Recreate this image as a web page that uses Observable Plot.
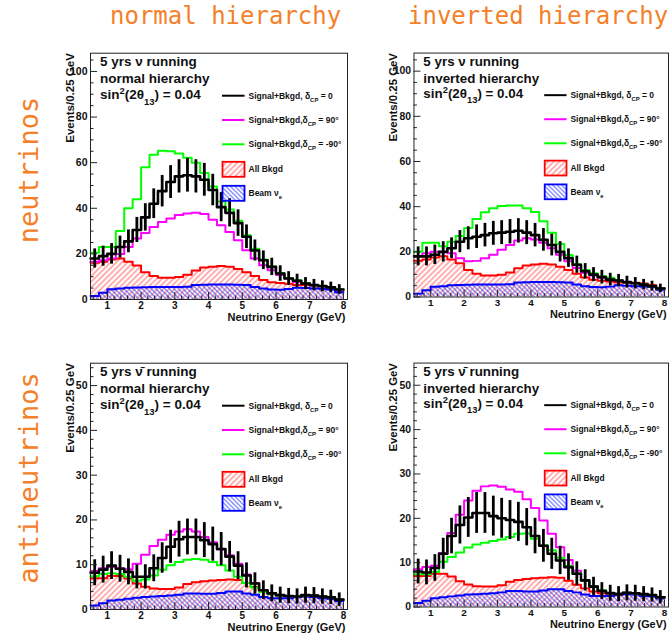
<!DOCTYPE html>
<html><head><meta charset="utf-8">
<script src="https://cdn.jsdelivr.net/npm/d3@7"></script>
<script src="https://cdn.jsdelivr.net/npm/@observablehq/plot@0.6"></script>
<style>
html,body{margin:0;padding:0;background:#fff;overflow:hidden;width:670px;height:640px;}
#wrap{position:relative;width:670px;height:640px;overflow:hidden;}
.panel{position:absolute;}
#overlay{position:absolute;left:0;top:0;pointer-events:none;}
</style></head><body><div id="wrap"></div>
<script>
// bins: lower edges (GeV), width 0.25
const binLow = [0.5,0.75,1,1.25,1.5,1.75,2,2.25,2.5,2.75,3,3.25,3.5,3.75,4,4.25,4.5,4.75,5,5.25,5.5,5.75,6,6.25,6.5,6.75,7,7.25,7.5,7.75];
const binWidth = 0.25;
const xMajor = [1,2,3,4,5,6,7,8];
const yMajorNu = [0,20,40,60,80,100];
const yMajorAnti = [0,10,20,30,40,50];

// neutrino running: backgrounds
const nuBkgd = [16.1,16.6,17.5,18.0,16.6,14.9,12.0,10.3,9.5,9.5,9.9,10.9,12.7,14.0,14.4,14.7,14.4,13.4,12.0,10.3,8.6,7.6,7.2,6.9,6.4,6.4,6.3,6.0,5.3,4.0];
const nuBeam = [1.5,3.0,4.5,4.8,5.2,5.3,5.4,5.5,5.5,5.5,5.5,5.6,6.4,6.5,6.6,6.6,6.6,6.5,6.4,5.5,4.8,4.4,4.3,4.6,5.2,5.0,4.8,4.7,4.4,3.2];
// neutrino, normal hierarchy
const nuNH_d0   = [18,19,20,23,25.5,30.5,36,42,47.5,51.5,54,54.5,54,52.5,48,40.5,38,33.5,27.5,21.5,17.2,14.3,11.4,9.2,8.2,7.0,6.3,5.8,5.3,4.4];
const nuNH_err  = [4.2,4.4,4.5,4.8,5.0,5.5,6.0,6.5,6.9,7.2,7.3,7.4,7.3,7.2,6.9,6.4,6.2,5.8,5.2,4.6,4.1,3.8,3.4,3.0,2.9,2.6,2.5,2.4,2.3,2.1];
const nuNH_d90  = [16.5,17.2,18,20,23,26.7,29.2,31.8,34,35.5,37,37.7,38,37.5,35,32.6,29.6,26,21.6,18,15,12.8,10.7,9.2,7.7,7,6.3,5.8,5.3,4.4];
const nuNH_dm90 = [20.5,23,23,30,40,44,58,63.5,65.2,65,64,62.2,60,55.5,49.5,43,39.5,34.5,28.2,22.3,17.5,14.5,11.6,9.4,8.4,7.2,6.4,6.0,5.4,4.5];
// neutrino, inverted hierarchy
const nuIH_d0   = [18,18,18.7,20,21.6,24.5,26,26.7,27.4,28.2,28.5,28.9,29.3,28.5,27.4,25.3,23,20,17.2,14.3,11.4,9.9,8.8,7.7,7.3,6.6,6.1,5.5,4.8,3.8];
const nuIH_err  = [4.2,4.2,4.3,4.5,4.6,4.9,5.1,5.2,5.2,5.3,5.3,5.4,5.4,5.3,5.2,5.0,4.8,4.5,4.1,3.8,3.4,3.1,3.0,2.8,2.7,2.6,2.5,2.3,2.2,1.9];
const nuIH_d90  = [18,19.4,20,20,19.4,17.2,15.8,16,17.2,18.7,20.9,23,25,26,25.5,24,21.6,18.7,15.8,12.8,10.7,9.5,8.5,7.7,7.3,6.6,6.1,5.5,4.8,3.8];
const nuIH_dm90 = [20,24,24,22.5,24.5,27,30.5,34.5,37.5,39.3,40.3,40.5,40.5,39.3,37.6,33.5,28.5,23.5,18.6,14.5,12,10.5,9.2,8.5,7.3,6.6,6.1,5.5,4.8,3.8];

// antineutrino running: backgrounds
const antiBkgd = [7.0,7.0,7.5,7.5,6.9,5.8,5.1,4.7,4.6,4.6,4.9,5.7,6.1,6.3,6.5,6.6,6.7,6.6,5.9,5.0,4.2,3.5,3.1,3.0,2.8,3.1,3.1,2.8,2.6,2.2];
const antiBeam = [0.9,1.4,2.0,2.2,2.4,2.6,2.8,2.9,3.0,3.1,3.3,3.6,3.6,3.5,3.5,3.7,4.0,4.0,3.6,3.3,2.8,2.5,2.5,2.5,2.8,2.9,2.8,2.5,2.4,1.9];
// antineutrino, normal hierarchy
const antiNH_d0   = [8.2,8.9,9.8,9.1,8.4,7.3,7.3,9.2,11.5,14,15.7,16.2,16.2,15.5,14.6,13.5,11.8,9.8,7.6,5.8,4.3,3.6,3.2,3.0,2.9,3.2,3.1,2.9,2.7,2.2];
const antiNH_err  = [2.9,3.0,3.1,3.0,2.9,2.7,2.7,3.0,3.4,3.7,4.0,4.0,4.0,3.9,3.8,3.7,3.4,3.1,2.8,2.4,2.1,1.9,1.8,1.7,1.7,1.8,1.8,1.7,1.6,1.5];
const antiNH_d90  = [8.6,9.2,9.5,9.2,9.0,10.2,12.2,14.2,15.6,16.7,17.4,17.9,17.4,16.2,15.0,13.4,12.1,10.2,7.8,5.9,4.3,3.6,3.2,3.0,2.9,3.2,3.1,2.9,2.7,2.2];
const antiNH_dm90 = [7.4,7.9,8.1,7.9,7.3,6.4,6.7,7.6,8.9,9.9,10.6,11.1,11.3,11.1,10.6,9.9,8.7,7.3,5.9,4.9,3.9,3.4,3.1,3.0,2.9,3.2,3.1,2.9,2.7,2.2];
// antineutrino, inverted hierarchy
const antiIH_d0   = [8.0,7.8,8.8,12,16,18.5,20.2,21.2,21.2,20.5,20.0,19.6,19.2,18.0,16.0,13.8,12.0,10.5,9.0,7.5,6.0,4.6,3.6,3.1,2.9,3.2,3.1,2.9,2.7,2.2];
const antiIH_err  = [2.8,2.8,3.0,3.5,4.0,4.3,4.5,4.6,4.6,4.5,4.5,4.4,4.4,4.2,4.0,3.7,3.5,3.2,3.0,2.7,2.4,2.1,1.9,1.8,1.7,1.8,1.8,1.7,1.6,1.5];
const antiIH_d90  = [8.5,9.0,9.3,12.2,16.7,20.8,24.0,26.2,27.2,27.4,27.1,26.5,26.0,24.3,22.3,19.5,16.5,13.5,10.6,8.2,6.0,4.7,3.8,3.2,3.0,3.2,3.1,2.9,2.7,2.2];
const antiIH_dm90 = [7.4,7.4,7.9,10.2,11.3,12.3,13.4,14.1,14.5,14.9,15.2,15.8,16.5,16.6,15.4,13.9,12.8,11.1,9.3,7.6,5.9,4.7,3.8,3.2,3.0,3.2,3.1,2.9,2.7,2.2];

const columnTitles = ["normal hierarchy", "inverted hierarchy"];
const rowTitles = ["neutrinos", "antineutrinos"];
const legendLabels = [
  [{t:"Signal+Bkgd, "},{t:"δ"},{t:"CP",sub:true},{t:" = 0"}],
  [{t:"Signal+Bkgd,"},{t:"δ"},{t:"CP",sub:true},{t:" = 90°"}],
  [{t:"Signal+Bkgd,"},{t:"δ"},{t:"CP",sub:true},{t:" = -90°"}],
  [{t:"All Bkgd"}],
  [{t:"Beam ν"},{t:"e",sub:true}]
];

const panels = [
  {id:1, left:36, top:40, yMax:108, yMajor:yMajorNu, yMinorStep:5, run:"5 yrs ν running", hier:"normal hierarchy", d0:nuNH_d0, err:nuNH_err, d90:nuNH_d90, dm90:nuNH_dm90, bkgd:nuBkgd, beam:nuBeam},
  {id:2, left:360, top:40, yMax:108, yMajor:yMajorNu, yMinorStep:5, run:"5 yrs ν running", hier:"inverted hierarchy", d0:nuIH_d0, err:nuIH_err, d90:nuIH_d90, dm90:nuIH_dm90, bkgd:nuBkgd, beam:nuBeam},
  {id:3, left:36, top:350, yMax:55, yMajor:yMajorAnti, yMinorStep:2, run:"5 yrs ν\u0304 running", hier:"normal hierarchy", d0:antiNH_d0, err:antiNH_err, d90:antiNH_d90, dm90:antiNH_dm90, bkgd:antiBkgd, beam:antiBeam},
  {id:4, left:360, top:350, yMax:55, yMajor:yMajorAnti, yMinorStep:2, run:"5 yrs ν\u0304 running", hier:"inverted hierarchy", d0:antiIH_d0, err:antiIH_err, d90:antiIH_d90, dm90:antiIH_dm90, bkgd:antiBkgd, beam:antiBeam}
];

const FONT = "'Liberation Sans', Arial, Helvetica, sans-serif";
const wrap = d3.select("#wrap");

function steps(arr) {
  const pts = binLow.map((x, i) => ({x, y: arr[i]}));
  pts.push({x: binLow[binLow.length - 1] + binWidth, y: arr[arr.length - 1]});
  return pts;
}

function addRich(g, x, y, parts, size) {
  const t = g.append("text").attr("x", x).attr("y", y).attr("text-anchor", "start")
    .attr("font-size", size).attr("font-weight", "bold").attr("font-family", FONT).attr("fill", "#111");
  parts.forEach(p => {
    const ts = t.append("tspan").text(p.t);
    if (p.sub) ts.attr("baseline-shift", "sub").attr("font-size", size * 0.7);
    if (p.sup) ts.attr("baseline-shift", "super").attr("font-size", size * 0.7);
  });
  return t;
}

panels.forEach(p => {
  const W = 313, H = 290, mL = 54, mR = 2, mT = 12.7, mB = 31;
  const pW = W - mL - mR, pH = H - mT - mB;
  const yMinor = d3.range(0, p.yMax, p.yMinorStep).filter(v => !p.yMajor.includes(v));
  const xMinor = d3.range(6, 81, 2).map(v => v / 10).filter(v => !xMajor.includes(v));
  const errData = binLow.map((x, i) => ({x: x + binWidth / 2, lo: p.d0[i] - p.err[i], hi: p.d0[i] + p.err[i]}));
  const stepLine = (arr, color, w) => Plot.line(steps(arr), {x: "x", y: "y", curve: "step-after", stroke: color, strokeWidth: w});
  const plot = Plot.plot({
    width: W, height: H, marginLeft: mL, marginRight: mR, marginTop: mT, marginBottom: mB,
    x: {domain: [0.5, 8.12]},
    y: {domain: [0, p.yMax]},
    style: {background: "transparent", overflow: "visible", fontFamily: FONT, color: "#111"},
    marks: [
      Plot.areaY(steps(p.bkgd), {x: "x", y: "y", curve: "step-after", fill: `url(#hr${p.id})`}),
      Plot.areaY(steps(p.beam), {x: "x", y: "y", curve: "step-after", fill: `url(#hb${p.id})`}),
      stepLine(p.bkgd, "#ff0000", 2),
      stepLine(p.beam, "#0000ff", 2),
      stepLine(p.d90, "#ff00ff", 2),
      stepLine(p.dm90, "#00ff00", 2),
      Plot.ruleX(errData, {x: "x", y1: "lo", y2: "hi", stroke: "#000", strokeWidth: 2.8}),
      stepLine(p.d0, "#000000", 2.6),
      Plot.ruleY(p.yMajor, {insetRight: pW - 7, stroke: "#222", strokeWidth: 1}),
      Plot.ruleY(yMinor, {insetRight: pW - 3.5, stroke: "#222", strokeWidth: 1}),
      Plot.ruleX(xMajor, {insetTop: pH - 7, stroke: "#222", strokeWidth: 1}),
      Plot.ruleX(xMinor, {insetTop: pH - 3.5, stroke: "#222", strokeWidth: 1}),
      Plot.axisX({ticks: xMajor, tickSize: 0, tickPadding: 2, fontSize: 10, fontWeight: "bold", label: null}),
      Plot.axisY({ticks: p.yMajor, tickSize: 0, tickPadding: 3, fontSize: 10.5, fontWeight: "bold", label: null}),
      Plot.frame({stroke: "#222", strokeWidth: 1}),
      Plot.text(["Neutrino Energy (GeV)"], {frameAnchor: "bottom-right", dx: -2, dy: 21, textAnchor: "end", fontSize: 11, fontWeight: "bold"}),
      Plot.text(["Events/0.25 GeV"], {frameAnchor: "top-left", rotate: -90, textAnchor: "end", dx: -25, fontSize: 11.5, fontWeight: "bold"})
    ]
  });
  const div = wrap.append("div").attr("class", "panel").style("left", p.left + "px").style("top", p.top + "px");
  div.node().appendChild(plot);
  const svg = d3.select(plot);
  const defs = svg.insert("defs", ":first-child");
  const pr = defs.append("pattern").attr("id", `hr${p.id}`).attr("patternUnits", "userSpaceOnUse")
    .attr("width", 4).attr("height", 4).attr("patternTransform", "rotate(45)");
  pr.append("line").attr("x1", 2).attr("y1", 0).attr("x2", 2).attr("y2", 4).attr("stroke", "#ff2a2a").attr("stroke-width", 1).attr("stroke-opacity", 0.75);
  const pb = defs.append("pattern").attr("id", `hb${p.id}`).attr("patternUnits", "userSpaceOnUse")
    .attr("width", 3.2).attr("height", 3.2).attr("patternTransform", "rotate(-45)");
  pb.append("line").attr("x1", 1.6).attr("y1", 0).attr("x2", 1.6).attr("y2", 3.2).attr("stroke", "#2233ff").attr("stroke-width", 1.1).attr("stroke-opacity", 0.7);

  const g = svg.append("g").attr("transform", `translate(${mL},${mT})`).attr("text-anchor", "start");
  // panel texts
  addRich(g, 10, 13.3, [{t: p.run}], 13.5);
  addRich(g, 10, 30.3, [{t: p.hier}], 13.5);
  addRich(g, 10, 46.3, [{t:"sin"},{t:"2",sup:true},{t:"(2θ"},{t:"13",sub:true},{t:") = 0.04"}], 13.5);
  // legend
  const rows = [43, 67.3, 91.6, 116.6, 140.6];
  const lineColors = ["#000000", "#ff00ff", "#00ff00"];
  rows.forEach((ry, i) => {
    if (i < 3) {
      g.append("line").attr("x1", 132).attr("x2", 154.5).attr("y1", ry).attr("y2", ry)
        .attr("stroke", lineColors[i]).attr("stroke-width", 2);
    } else {
      g.append("rect").attr("x", 132.5).attr("y", ry - 7.5).attr("width", 22).attr("height", 15)
        .attr("fill", i === 3 ? `url(#hr${p.id})` : `url(#hb${p.id})`)
        .attr("stroke", i === 3 ? "#ff0000" : "#0000ff").attr("stroke-width", 1.8);
    }
    addRich(g, 158.5, ry + 3, legendLabels[i], 8.5);
  });
});

// orange row/column labels
const ov = wrap.append("svg").attr("id", "overlay").attr("width", 670).attr("height", 640);
const ORANGE = "#f5802a";
const MONO = "'DejaVu Sans Mono', 'Liberation Mono', monospace";
ov.append("text").attr("x", 110).attr("y", 24).attr("font-family", MONO).attr("font-size", 24).attr("fill", ORANGE).text(columnTitles[0]);
ov.append("text").attr("x", 408).attr("y", 24).attr("font-family", MONO).attr("font-size", 24).attr("fill", ORANGE).text(columnTitles[1]);
ov.append("text").attr("transform", "translate(38,170) rotate(-90)").attr("text-anchor", "middle").attr("font-family", MONO).attr("font-size", 27).attr("fill", ORANGE).text(rowTitles[0]);
ov.append("text").attr("transform", "translate(38,478) rotate(-90)").attr("text-anchor", "middle").attr("font-family", MONO).attr("font-size", 27).attr("fill", ORANGE).text(rowTitles[1]);
</script>
</body></html>
